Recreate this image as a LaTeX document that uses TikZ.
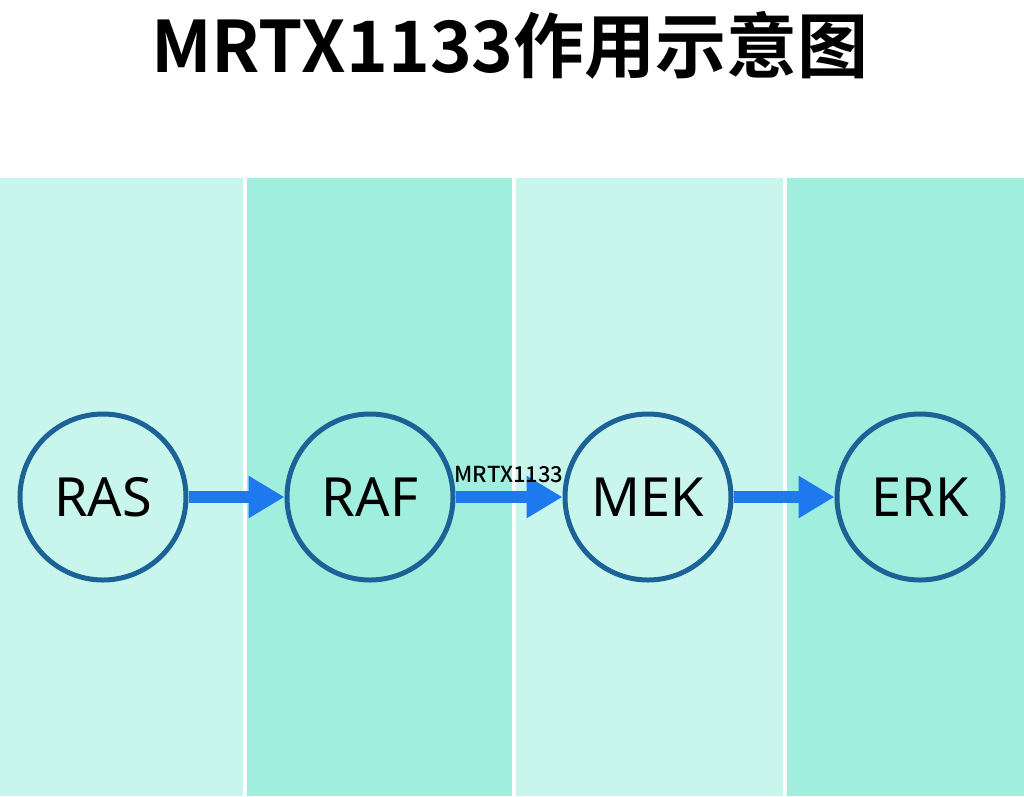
\documentclass[tikz,border=0pt]{standalone}
\usepackage{fontspec}
\setmainfont{Noto Sans}
\newfontfamily\cjk{Noto Sans CJK SC Bold}
\newfontfamily\lblfont{Noto Sans CJK SC Medium}
\usetikzlibrary{arrows.meta}
\definecolor{lightp}{HTML}{C9F6EC}
\definecolor{darkp}{HTML}{9FEEDE}
\definecolor{ring}{HTML}{1B6296}
\definecolor{arr}{HTML}{1E78EE}
\tikzset{
  stage/.style={circle,draw=ring,line width=5pt,minimum size=166pt,inner sep=0pt,font=\fontsize{54}{58}\selectfont},
  flow/.style={draw=arr,line width=12pt,-{Triangle[length=36pt,width=40pt]}},
}
\begin{document}
\begin{tikzpicture}[x=1pt,y=1pt]
\useasboundingbox (0,0) rectangle (1024,-796);
\fill[white] (0,0) rectangle (1024,-796);
\fill[lightp] (0,-178) rectangle (243,-796);
\fill[darkp] (247,-178) rectangle (512,-796);
\fill[lightp] (516,-178) rectangle (783,-796);
\fill[darkp] (787,-178) rectangle (1024,-796);
\node[font=\cjk\fontsize{71}{76}\selectfont] (title) at (510,-45) {MRTX1133作用示意图};
\node[stage] (ras) at (103,-497) {RAS};
\node[stage] (raf) at (370,-497) {RAF};
\node[stage] (mek) at (648,-497) {MEK};
\node[stage] (erk) at (920,-497) {ERK};
\draw[flow] (ras) -- (raf);
\draw[flow] (raf) -- (mek) node[midway,above=5pt,font=\lblfont\fontsize{22}{24}\selectfont] (lbl) {MRTX1133};
\draw[flow] (mek) -- (erk);
\end{tikzpicture}
\end{document}
